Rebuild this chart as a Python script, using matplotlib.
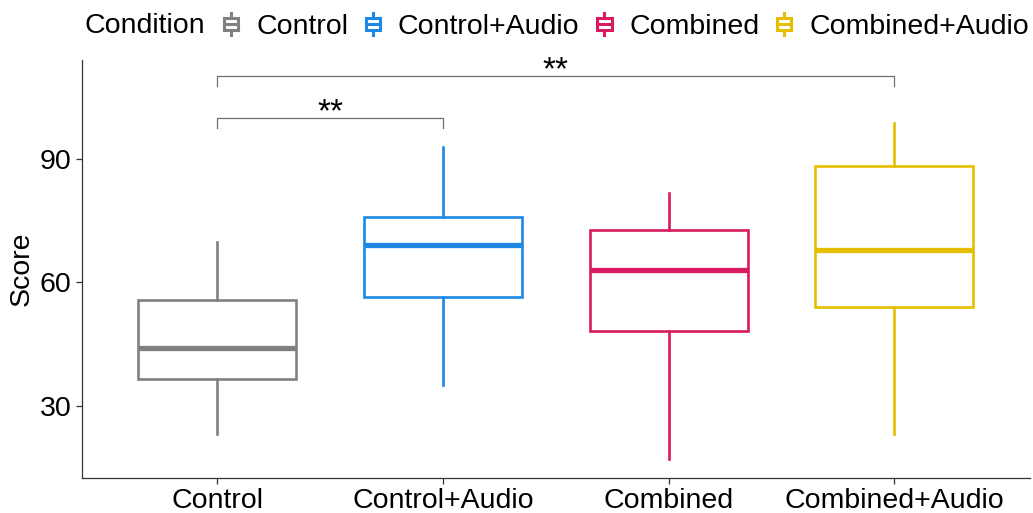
import matplotlib
matplotlib.use("Agg")
import matplotlib.pyplot as plt
from matplotlib.legend_handler import HandlerBase
from matplotlib.patches import Rectangle
from matplotlib.lines import Line2D

plt.rcParams['font.family'] = ['Liberation Sans', 'DejaVu Sans']

# data
conditions = ["Control", "Control+Audio", "Combined", "Combined+Audio"]
colors = ["#808080", "#1E88E5", "#D81B60", "#E6BE00"]
whisker_low = [23.2, 35.1, 17.1, 23.2]
q1 = [36.6, 56.5, 48.2, 54.0]
medians = [44.1, 69.1, 63.0, 67.9]
q3 = [55.7, 75.9, 72.7, 88.3]
whisker_high = [69.8, 92.9, 81.7, 98.7]

# significance brackets: (from, to), bracket height, label
comparisons = [(1, 2), (1, 4)]
bracket_y = [100.0, 110.2]
bracket_labels = ["**", "**"]

FS = 20.5


class BoxHandler(HandlerBase):
    """ small boxplot glyph for the legend keys """
    def __init__(self, color):
        super().__init__()
        self.color = color

    def create_artists(self, legend, orig_handle, xdescent, ydescent,
                       width, height, fontsize, trans):
        cx = width / 2 - xdescent
        bw = width * 0.9
        by0 = -ydescent + height * 0.24
        by1 = -ydescent + height * 0.76
        box = Rectangle((cx - bw / 2, by0), bw, by1 - by0, facecolor="white",
                        edgecolor=self.color, lw=2.2, transform=trans)
        med = Line2D([cx - bw / 2, cx + bw / 2], [(by0 + by1) / 2] * 2,
                     color=self.color, lw=2.2, transform=trans)
        w1 = Line2D([cx, cx], [by1, by1 + height * 0.2], color=self.color,
                    lw=2.2, transform=trans)
        w2 = Line2D([cx, cx], [by0, by0 - height * 0.2], color=self.color,
                    lw=2.2, transform=trans)
        return [box, med, w1, w2]


fig = plt.figure(figsize=(10.33, 5.13), dpi=100)
ax = fig.add_axes([0.0794, 0.0682, 0.9176, 0.8148])

positions = list(range(1, len(conditions) + 1))
for i, pos in enumerate(positions):
    stats = [{"whislo": whisker_low[i], "q1": q1[i], "med": medians[i],
              "q3": q3[i], "whishi": whisker_high[i], "fliers": []}]
    c = colors[i]
    ax.bxp(stats, positions=[pos], widths=0.7, showcaps=False,
           patch_artist=True,
           boxprops=dict(facecolor="white", edgecolor=c, lw=1.9),
           medianprops=dict(color=c, lw=3.8, solid_capstyle="butt"),
           whiskerprops=dict(color=c, lw=1.9))

# brackets
for (a, b), y, lab in zip(comparisons, bracket_y, bracket_labels):
    ax.plot([a, a, b, b], [y - 2.6, y, y, y - 2.6], color="#707070", lw=0.9)
    ax.text((a + b) / 2, y - 0.8, lab, ha="center", va="baseline",
            fontsize=24)

ax.set_xlim(0.4, 4.6)
ax.set_ylim(12.5, 114)
ax.set_yticks([30, 60, 90])
ax.set_xticks(positions)
ax.set_xticklabels(conditions)
ax.set_ylabel("Score", fontsize=FS, labelpad=4)
ax.tick_params(labelsize=FS, color="#333333", length=4, width=0.9,
               labelcolor="black")
for side in ["top", "right"]:
    ax.spines[side].set_visible(False)
for side in ["left", "bottom"]:
    ax.spines[side].set_color("#333333")
    ax.spines[side].set_linewidth(0.9)

# legend across the top with its title inline
leg_y = 1 - 26 / 513
fig.text(84 / 1033, leg_y, "Condition", fontsize=FS, va="center", ha="left")
handles = [Rectangle((0, 0), 1, 1) for _ in conditions]
leg = fig.legend(handles, conditions, ncol=4, loc="center left",
                 bbox_to_anchor=(212 / 1033, leg_y), frameon=False,
                 fontsize=FS, handlelength=0.55, handleheight=0.9,
                 handletextpad=0.6, columnspacing=0.6, borderaxespad=0,
                 handler_map={h: BoxHandler(c) for h, c in zip(handles, colors)})

fig.savefig("out.png", dpi=100)
